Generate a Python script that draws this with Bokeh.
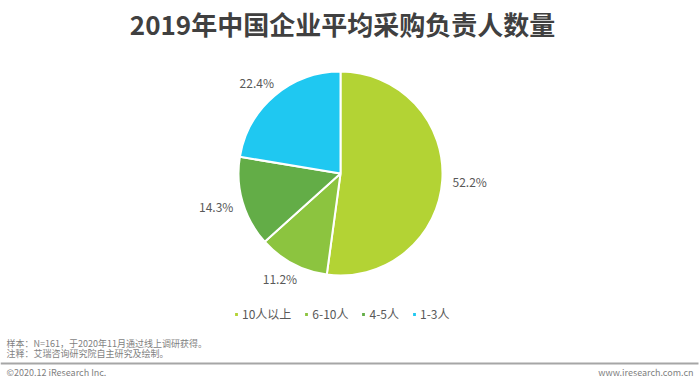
import numpy as np
from bokeh.plotting import figure
from bokeh.models import Range1d, ColumnDataSource, Legend, LegendItem
from bokeh.core.properties import value
from bokeh.embed import file_html
from bokeh.resources import INLINE

# ---- data ----
categories = ["10人以上", "6-10人", "4-5人", "1-3人"]
shares = [52.2, 11.2, 14.3, 22.4]
colors = ["#B3D334", "#8CC43F", "#63AD47", "#1FC8F1"]
title_text = "2019年中国企业平均采购负责人数量"
note_lines = ["样本：N=161，于2020年11月通过线上调研获得。", "注释：艾瑞咨询研究院自主研究及绘制。"]
copyright_text = "©2020.12 iResearch Inc."
site_text = "www.iresearch.com.cn"

FONT = "Noto Sans CJK SC"
W, H = 700, 383


def Y(py):
    # picture pixel y -> data y
    return H - py


p = figure(width=W, height=H, x_range=Range1d(0, W), y_range=Range1d(0, H),
           output_backend="svg", toolbar_location=None, min_border=0)
p.axis.visible = False
p.grid.visible = False
p.outline_line_color = None
p.background_fill_color = "white"
p.border_fill_color = "white"

cx, cy, r = 340, Y(173), 102
vals = np.array(shares, dtype=float)
frac = vals / vals.sum()
c1 = np.cumsum(frac)
c0 = c1 - frac
start = np.pi / 2 - 2 * np.pi * c0
end = np.pi / 2 - 2 * np.pi * c1
mid = (start + end) / 2

src = ColumnDataSource(dict(start=start, end=end, color=colors, cat=categories))
w = p.wedge(x=cx, y=cy, radius=r, start_angle="start", end_angle="end",
            direction="clock", fill_color="color", line_color="white", line_width=2,
            source=src)

# outside-end labels: text box placed just outside the rim along the mid angle
gap, half_w, half_h = 10, 17.5, 7
lx = cx + (r + gap) * np.cos(mid) + half_w * np.cos(mid)
ly = cy + (r + gap) * np.sin(mid) + half_h * np.sin(mid)
lab = ColumnDataSource(dict(x=lx, y=ly, t=[f"{v:.1f}%" for v in shares]))
p.text(x="x", y="y", text="t", source=lab, text_font=value(FONT), text_font_size="12px",
       text_color="#595959", text_align="center", text_baseline="middle")

# title
p.text(x=[342], y=[Y(23)], text=[title_text], text_font=value(FONT), text_font_size="26px",
       text_font_style="bold", text_color="#404040", text_align="center", text_baseline="middle")

# footer
p.text(x=[6, 6], y=[Y(343), Y(353)], text=note_lines, text_font=value(FONT), text_font_size="9px",
       text_color="#7f7f7f", text_align="left", text_baseline="middle")
p.segment(x0=[0], y0=[Y(363)], x1=[698], y1=[Y(363)], line_color="#a6a6a6", line_width=2)
p.text(x=[6], y=[Y(372)], text=[copyright_text], text_font=value(FONT), text_font_size="9px",
       text_color="#7f7f7f", text_align="left", text_baseline="middle")
p.text(x=[693], y=[Y(372)], text=[site_text], text_font=value(FONT), text_font_size="9px",
       text_color="#7f7f7f", text_align="right", text_baseline="middle")

items = [LegendItem(label=c, renderers=[w], index=i) for i, c in enumerate(categories)]
legend = Legend(items=items, orientation="horizontal", location=(233, 61),
                label_text_font=FONT, label_text_font_size="12px", label_text_color="#595959",
                glyph_width=6, glyph_height=6, label_standoff=3, spacing=12,
                padding=0, margin=0, border_line_alpha=0, background_fill_alpha=0,
                label_height=14)
p.add_layout(legend, "center")

open("out.html", "w").write(file_html(p, INLINE))
